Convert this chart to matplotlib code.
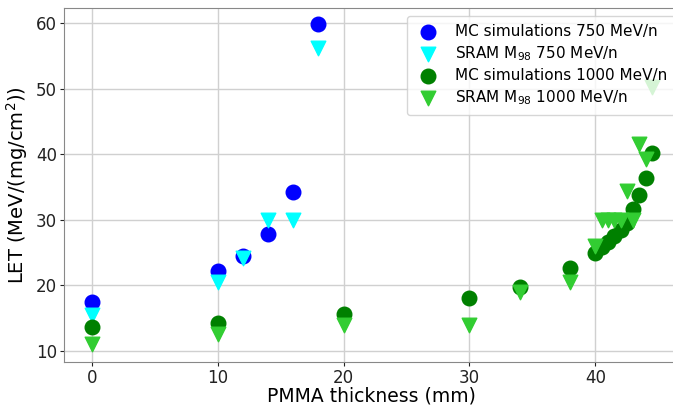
import numpy as np
import matplotlib
matplotlib.use("Agg")
import matplotlib.pyplot as plt

# MC simulations 750 MeV/n
x_mc750 = [0, 10, 12, 14, 16, 18]
y_mc750 = [17.5, 22.2, 24.5, 27.8, 34.2, 59.8]

# SRAM 750 MeV/n
x_sr750 = [0, 10, 12, 14, 16, 18]
y_sr750 = [15.5, 20.5, 24.2, 30.0, 30.0, 56.2]

# MC simulations 1000 MeV/n
x_mc1000 = [0, 10, 20, 30, 34, 38, 40, 40.5, 41, 41.5, 42, 42.5, 43, 43.5, 44, 44.5]
y_mc1000 = [13.6, 14.3, 15.6, 18.0, 19.8, 22.6, 24.9, 25.8, 26.6, 27.5, 28.5, 29.5,
            31.6, 33.8, 36.4, 40.2]

# SRAM 1000 MeV/n
x_sr1000 = [0, 10, 20, 30, 34, 38, 40, 40.5, 41, 41.5, 42, 42.5, 43, 43.5, 44, 44.5]
y_sr1000 = [11.0, 12.5, 14.0, 14.0, 19.0, 20.5, 26.0, 30.0, 30.0, 30.0, 30.0, 34.4,
            30.0, 41.6, 39.2, 50.2]

fig = plt.figure(figsize=(6.73, 4.07), dpi=100)
ax = fig.add_axes([0.0951, 0.1106, 0.915, 0.870])

ax.scatter(x_mc750, y_mc750, s=110, marker='o', color='blue', label='MC simulations 750 MeV/n', zorder=3)
ax.scatter(x_sr750, y_sr750, s=110, marker='v', color='cyan', label='SRAM M$_{98}$ 750 MeV/n', zorder=3)
ax.scatter(x_mc1000, y_mc1000, s=110, marker='o', color='green', label='MC simulations 1000 MeV/n', zorder=3)
ax.scatter(x_sr1000, y_sr1000, s=110, marker='v', color='limegreen', label='SRAM M$_{98}$ 1000 MeV/n', zorder=3)

ax.set_xlim(-2.2, 46.7)
ax.set_ylim(8.3, 62.3)
ax.set_xticks([0, 10, 20, 30, 40])
ax.set_yticks([10, 20, 30, 40, 50, 60])
ax.tick_params(labelsize=12, colors='#222222', length=3, pad=2)
ax.grid(True, color='#d0d0d0', linewidth=1)
ax.set_axisbelow(True)
for sp in ax.spines.values():
    sp.set_color('#888888')

ax.set_xlabel('PMMA thickness (mm)', fontsize=13.5, labelpad=0)
ax.set_ylabel('LET (MeV/(mg/cm$^2$))', fontsize=14, labelpad=4)

leg = ax.legend(loc='upper left', bbox_to_anchor=(0.557, 0.977), fontsize=11,
                framealpha=0.8, handletextpad=0.9, borderpad=0.5, borderaxespad=0,
                handlelength=1.75, labelspacing=0.35)
leg.set_zorder(5)

fig.savefig('out.png', dpi=100)
